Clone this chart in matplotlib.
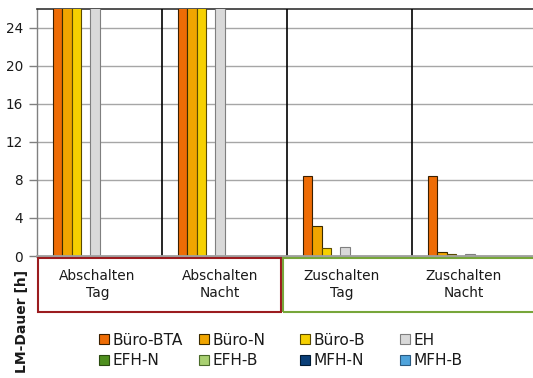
import matplotlib
matplotlib.use("Agg")
import matplotlib.pyplot as plt
from matplotlib.patches import Rectangle, Patch
import numpy as np

plt.rcParams['font.family'] = ['DejaVu Sans']

categories = ["Abschalten\nTag", "Abschalten\nNacht", "Zuschalten\nTag", "Zuschalten\nNacht"]
series_names = ["Büro-BTA", "Büro-N", "Büro-B", "EH", "EFH-N", "EFH-B", "MFH-N", "MFH-B"]
buero_bta = [30, 30, 8.45, 8.4]
buero_n = [30, 30, 3.2, 0.45]
buero_b = [30, 30, 0.8, 0.25]
eh = [30, 30, 0.9, 0.25]
efh_n = [0, 0, 0, 0]
efh_b = [0, 0, 0, 0]
mfh_n = [0, 0, 0, 0]
mfh_b = [0, 0, 0, 0]
yticks = [0, 4, 8, 12, 16, 20, 24]
series_values = [buero_bta, buero_n, buero_b, eh, efh_n, efh_b, mfh_n, mfh_b]

colors = ["#EE6C05", "#F0A500", "#F6D000", "#D9D9D9", "#4E8F1E", "#A9D071", "#0A3F78", "#4FA3DB"]
edges = ["#3A1F00", "#3A2A00", "#5A4A00", "#7F7F7F", "#2A4A10", "#4A6A2A", "#001A33", "#2A5A80"]
slots = [0, 1, 2, 4, 5, 6, 7, 8]
nslots = 10
W, H = 533, 378
fig = plt.figure(figsize=(W / 100, H / 100), dpi=100)

ax_l, ax_r, ax_t, ax_b = 37, 537, 9, 256
ax = fig.add_axes([ax_l / W, 1 - ax_b / H, (ax_r - ax_l) / W, (ax_b - ax_t) / H])

bw = 9.33 / 125
x = np.arange(len(categories))
for vals, name, c, e, s in zip(series_values, series_names, colors, edges, slots):
    ax.bar(x + 0.5 + (s - (nslots - 1) / 2) * bw, vals, width=bw, color=c,
           edgecolor=e, linewidth=0.8, label=name, zorder=3)

ax.set_xlim(0, len(categories))
ax.set_ylim(0, 26)
ax.set_yticks(yticks)
ax.set_yticklabels([str(t) for t in yticks], fontsize=9.8, color="#1a1a1a")
ax.tick_params(axis='y', length=6, width=1, color="#808080", pad=4)
ax.set_xticks([])
ax.yaxis.grid(True, color="#A6A6A6", linewidth=1.0, zorder=0)
for xv in x[1:]:
    ax.axvline(xv, color="black", linewidth=1.2, zorder=4)
ax.spines['top'].set_color("#333333")
ax.spines['top'].set_linewidth(1.2)
ax.spines['left'].set_color("#808080")
ax.spines['left'].set_linewidth(1.0)
ax.spines['bottom'].set_color("#A0A0A0")
ax.spines['bottom'].set_linewidth(2.0)
ax.spines['bottom'].set_zorder(5)
ax.spines['right'].set_visible(False)

def fx(px):
    return px / W
def fy(py):
    return 1 - py / H

# category label boxes
fig.patches.append(Rectangle((fx(38), fy(312)), fx(281) - fx(38), fy(258) - fy(312),
                             transform=fig.transFigure, fill=False, edgecolor="#9B1C1F", linewidth=1.5))
fig.patches.append(Rectangle((fx(283), fy(312)), fx(545) - fx(283), fy(258) - fy(312),
                             transform=fig.transFigure, fill=False, edgecolor="#77A63A", linewidth=1.5))
label_px = [97.5, 220, 342, 464]
for lx, cat in zip(label_px, categories):
    fig.text(fx(lx), fy(284.5), cat, ha='center', va='center', fontsize=9.9,
             color="#1a1a1a", linespacing=1.2)

fig.text(fx(22), fy(321), "LM-Dauer [h]", rotation=90, ha='center', va='center',
         fontsize=10, fontweight='bold', color="#1a1a1a")

# legend: 4 columns, row-wise order
col_px = [99, 199, 300, 400]
for ci, cx in enumerate(col_px):
    idx = [ci, ci + 4]
    hs = [Patch(facecolor=colors[i], edgecolor=edges[i], linewidth=0.8) for i in idx]
    ls = [series_names[i] for i in idx]
    leg = fig.legend(hs, ls, loc='center left', bbox_to_anchor=(fx(cx), fy(350.5)),
                     frameon=False, fontsize=11.1, handlelength=0.68, handleheight=0.68,
                     handletextpad=0.22, labelspacing=0.38, borderaxespad=0, borderpad=0)
    for t in leg.get_texts():
        t.set_color("#1a1a1a")

fig.savefig("out.png", dpi=100)
